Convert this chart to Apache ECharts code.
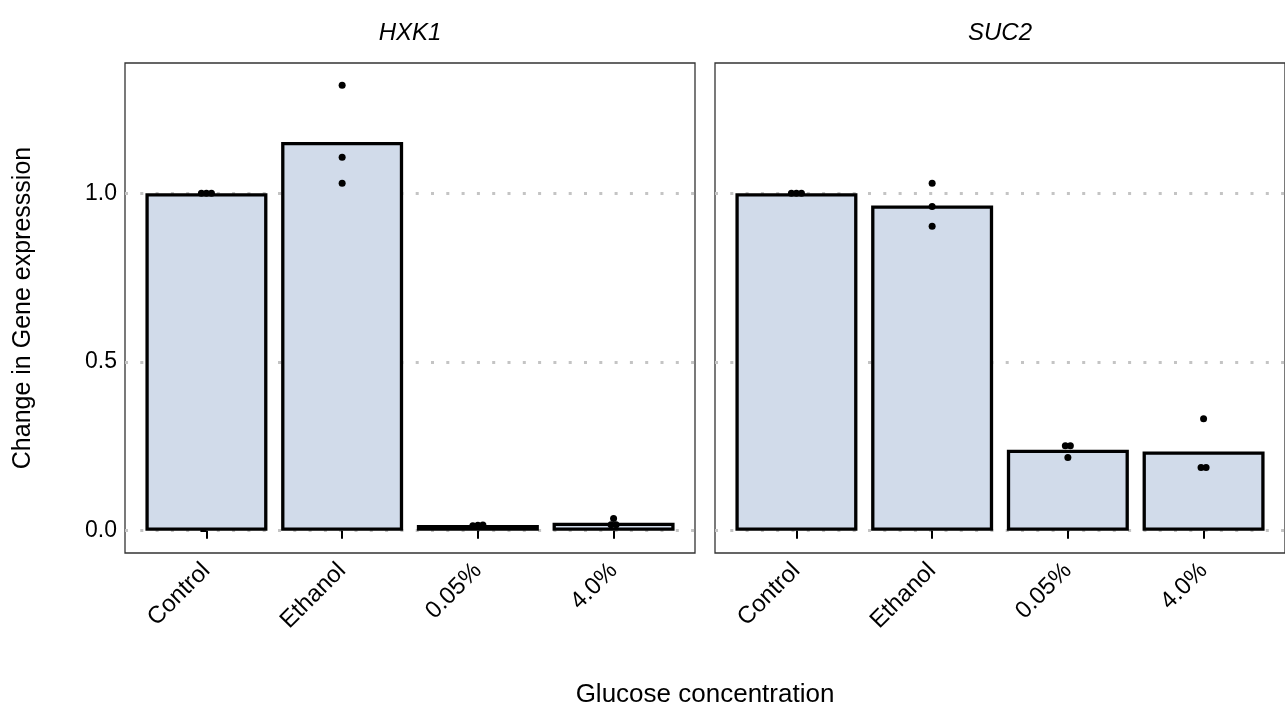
<!DOCTYPE html>
<html>
<head>
<meta charset="utf-8">
<style>html,body{margin:0;padding:0;background:#fff}#c{width:1285px;height:711px}</style>
<script src="https://cdn.jsdelivr.net/npm/echarts@6/dist/echarts.min.js"></script>
</head>
<body>
<div id="c"></div>
<script>
// ---- data ----
const categories = ['Control', 'Ethanol', '0.05%', '4.0%'];
const genes = ['HXK1', 'SUC2'];
const hxk1Means = [1.0, 1.152, 0.017, 0.024];
const suc2Means = [1.0, 0.964, 0.240, 0.235];
const hxk1Points = [[1.0, 1.0, 1.0], [1.320, 1.107, 1.030], [0.015, 0.016, 0.017], [0.036, 0.018, 0.018]];
const suc2Points = [[1.0, 1.0, 1.0], [1.030, 0.961, 0.902], [0.252, 0.252, 0.217], [0.332, 0.187, 0.187]];
const yTicks = [0, 0.5, 1.0];
const yTickLabels = ['0.0', '0.5', '1.0'];

const FONT = "'Liberation Sans', Arial, Helvetica, sans-serif";
const TXT = '#000';

// simple beeswarm-like spread for points that overlap vertically
function swarm(groups) {
  const out = [];
  groups.forEach((vals, i) => {
    const used = new Array(vals.length).fill(false);
    for (let a = 0; a < vals.length; a++) {
      if (used[a]) continue;
      const cl = [a];
      used[a] = true;
      for (let b = a + 1; b < vals.length; b++) {
        if (!used[b] && Math.abs(vals[b] - vals[a]) < 0.01) { cl.push(b); used[b] = true; }
      }
      cl.forEach((idx, k) => {
        const off = (k - (cl.length - 1) / 2) * 0.037;
        out.push([i + off, vals[idx]]);
      });
    }
  });
  return out;
}

const meansAll = [hxk1Means, suc2Means];
const pointsAll = [hxk1Points, suc2Points];
const lefts = [125, 715];

const grids = [], xAxes = [], yAxes = [], series = [];
genes.forEach((g, p) => {
  grids.push({left: lefts[p], top: 63, width: 570, height: 490, show: true,
    borderColor: '#333', borderWidth: 1.3, backgroundColor: 'transparent'});
  xAxes.push({
    type: 'value', gridIndex: p, min: -0.6, max: 3.6,
    axisLine: {show: false},
    splitLine: {show: false},
    axisTick: {show: true, customValues: [0, 1, 2, 3], length: 8, lineStyle: {color: '#000', width: 2}},
    axisLabel: {show: true, customValues: [0, 1, 2, 3], rotate: 45, margin: 14,
      formatter: v => categories[Math.round(v)], fontSize: 24, color: TXT, fontFamily: FONT}
  });
  yAxes.push({
    type: 'value', gridIndex: p, min: -0.066, max: 1.386,
    axisLine: {show: false},
    axisTick: {show: p === 0, customValues: yTicks, length: 6, lineStyle: {color: '#000', width: 2}},
    axisLabel: {show: p === 0, customValues: yTicks, margin: 8,
      formatter: v => yTickLabels[yTicks.indexOf(v)] !== undefined ? yTickLabels[yTicks.indexOf(v)] : v.toFixed(1),
      fontSize: 23, color: TXT, fontFamily: FONT},
    splitLine: {show: true, lineStyle: {color: '#c4c4c4', width: 3, type: [3, 12.3], cap: 'butt'}},
    name: p === 0 ? 'Change in Gene expresssion' : '',
    nameLocation: 'middle', nameRotate: 90, nameGap: 89,
    nameTextStyle: {fontSize: 25, color: TXT, fontFamily: FONT}
  });
  series.push({
    type: 'bar', xAxisIndex: p, yAxisIndex: p, barWidth: 122,
    data: meansAll[p].map((v, i) => [i, v]),
    itemStyle: {color: '#d1dbea', borderColor: '#000', borderWidth: 3.3},
    silent: true, z: 2
  });
  series.push({
    type: 'scatter', xAxisIndex: p, yAxisIndex: p, symbolSize: 7,
    data: swarm(pointsAll[p]),
    itemStyle: {color: '#000', opacity: 1},
    silent: true, z: 3
  });
});

const chart = echarts.init(document.getElementById('c'), null, {renderer: 'canvas'});
chart.setOption({
  animation: false,
  backgroundColor: '#fff',
  title: [
    {text: genes[0], left: 405, top: 16, textAlign: 'center',
      textStyle: {fontSize: 24, fontStyle: 'italic', fontWeight: 'normal', color: TXT, fontFamily: FONT}},
    {text: genes[1], left: 995, top: 16, textAlign: 'center',
      textStyle: {fontSize: 24, fontStyle: 'italic', fontWeight: 'normal', color: TXT, fontFamily: FONT}},
    {text: 'Glucose concentration', left: 700, top: 677, textAlign: 'center',
      textStyle: {fontSize: 26, fontWeight: 'normal', color: TXT, fontFamily: FONT}}
  ],
  grid: grids,
  xAxis: xAxes,
  yAxis: yAxes,
  series: series
});
</script>
</body>
</html>
